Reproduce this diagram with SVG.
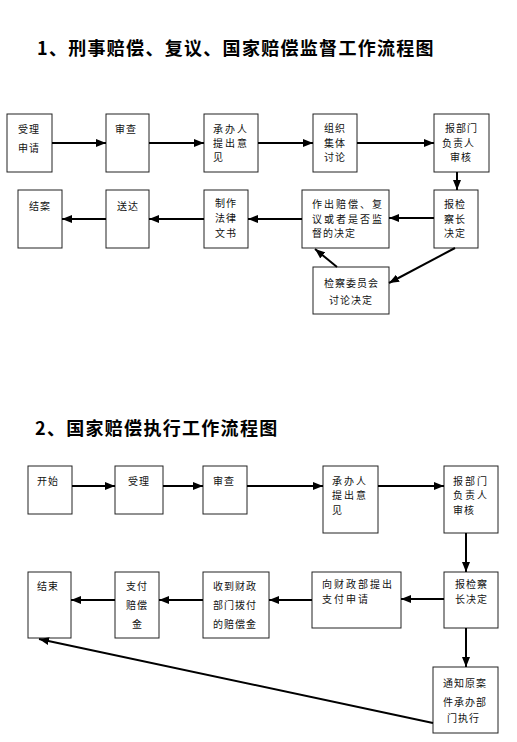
<svg xmlns="http://www.w3.org/2000/svg" width="517" height="742" viewBox="0 0 517 742">
<style>
.bx{fill:#fff;stroke:#222;stroke-width:1}
.t{font-family:"Noto Sans CJK SC","Liberation Sans",sans-serif;font-size:10px;fill:#111;letter-spacing:1px}
.w{letter-spacing:2px}
.h{font-family:"Noto Sans CJK SC","Liberation Sans",sans-serif;font-size:18px;font-weight:700;fill:#000;letter-spacing:1.3px}
.c line{stroke:#000;stroke-width:2;marker-end:url(#ah)}
</style>
<defs>
<marker id="ah" markerUnits="userSpaceOnUse" markerWidth="10" markerHeight="8" refX="10" refY="4" orient="auto">
<path d="M0,0 L10,4 L0,8 z" fill="#000"/>
</marker>
</defs>
<rect width="517" height="742" fill="#fff"/>
<text class="h" x="37" y="55">1、刑事赔偿、复议、国家赔偿监督工作流程图</text>
<text class="h" x="35" y="435">2、国家赔偿执行工作流程图</text>

<g id="a1"><rect class="bx" x="7" y="114" width="45" height="58"/><text class="t" x="18" y="133">受理</text><text class="t" x="18" y="152">申请</text></g>
<g id="a2"><rect class="bx" x="106" y="114" width="43" height="58"/><text class="t" x="115" y="133">审查</text></g>
<g id="a3"><rect class="bx" x="204" y="114" width="54" height="58"/><text class="t w" x="213" y="133">承办人</text><text class="t w" x="213" y="147">提出意</text><text class="t" x="213" y="161">见</text></g>
<g id="a4"><rect class="bx" x="313" y="114" width="44" height="58"/><text class="t" x="324" y="132">组织</text><text class="t" x="324" y="147">集体</text><text class="t" x="324" y="161">讨论</text></g>
<g id="a5"><rect class="bx" x="434" y="114" width="55" height="58"/><text class="t" x="445" y="132">报部门</text><text class="t" x="442" y="147">负责人</text><text class="t" x="450" y="161">审核</text></g>
<g id="a6"><rect class="bx" x="434" y="190" width="44" height="58"/><text class="t" x="444" y="208">报检</text><text class="t" x="444" y="223">察长</text><text class="t" x="444" y="237">决定</text></g>
<g id="a7"><rect class="bx" x="302" y="190" width="87" height="58"/><text class="t w" x="312" y="208">作出赔偿、复</text><text class="t w" x="312" y="223">议或者是否监</text><text class="t" x="312" y="237">督的决定</text></g>
<g id="a8"><rect class="bx" x="204" y="190" width="44" height="58"/><text class="t" x="215" y="207">制作</text><text class="t" x="215" y="222">法律</text><text class="t" x="215" y="237">文书</text></g>
<g id="a9"><rect class="bx" x="106" y="190" width="43" height="58"/><text class="t" x="117" y="210">送达</text></g>
<g id="a10"><rect class="bx" x="18" y="190" width="44" height="58"/><text class="t" x="29" y="210">结案</text></g>
<g id="a11"><rect class="bx" x="313" y="267" width="76" height="47"/><text class="t" x="324" y="287">检察委员会</text><text class="t" x="329" y="304">讨论决定</text></g>

<g id="b1"><rect class="bx" x="28" y="466" width="44" height="48"/><text class="t" x="37" y="485">开始</text></g>
<g id="b2"><rect class="bx" x="115" y="466" width="48" height="48"/><text class="t" x="128" y="485">受理</text></g>
<g id="b3"><rect class="bx" x="203" y="466" width="44" height="48"/><text class="t" x="213" y="485">审查</text></g>
<g id="b4"><rect class="bx" x="323" y="466" width="55" height="67"/><text class="t w" x="332" y="485">承办人</text><text class="t w" x="332" y="499">提出意</text><text class="t" x="332" y="514">见</text></g>
<g id="b5"><rect class="bx" x="444" y="466" width="54" height="67"/><text class="t w" x="453" y="485">报部门</text><text class="t w" x="453" y="499">负责人</text><text class="t" x="453" y="514">审核</text></g>
<g id="b6"><rect class="bx" x="444" y="572" width="54" height="56"/><text class="t" x="455" y="588">报检察</text><text class="t" x="455" y="603">长决定</text></g>
<g id="b7"><rect class="bx" x="312" y="572" width="89" height="56"/><text class="t w" x="322" y="588">向财政部提出</text><text class="t w" x="322" y="603">支付申请</text></g>
<g id="b8"><rect class="bx" x="203" y="572" width="66" height="66"/><text class="t" x="213" y="590">收到财政</text><text class="t" x="213" y="609">部门拨付</text><text class="t" x="213" y="628">的赔偿金</text></g>
<g id="b9"><rect class="bx" x="115" y="572" width="44" height="66"/><text class="t" x="126" y="590">支付</text><text class="t" x="126" y="609">赔偿</text><text class="t" x="132" y="628">金</text></g>
<g id="b10"><rect class="bx" x="28" y="572" width="43" height="66"/><text class="t" x="37" y="590">结束</text></g>
<g id="b11"><rect class="bx" x="433" y="667" width="65" height="66"/><text class="t" x="443" y="687">通知原案</text><text class="t" x="443" y="706">件承办部</text><text class="t" x="447" y="722">门执行</text></g>

<g id="connectors" class="c">
<line x1="52" y1="143" x2="106" y2="143"/>
<line x1="149" y1="143" x2="204" y2="143"/>
<line x1="258" y1="143" x2="313" y2="143"/>
<line x1="357" y1="143" x2="434" y2="143"/>
<line x1="457" y1="172" x2="457" y2="190"/>
<line x1="434" y1="218" x2="389" y2="218"/>
<line x1="302" y1="219" x2="248" y2="219"/>
<line x1="204" y1="219" x2="149" y2="219"/>
<line x1="106" y1="219" x2="62" y2="219"/>
<line x1="455" y1="248" x2="389" y2="283"/>
<line x1="337" y1="267" x2="315" y2="249"/>
<line x1="72" y1="486" x2="115" y2="486"/>
<line x1="163" y1="486" x2="203" y2="486"/>
<line x1="247" y1="486" x2="323" y2="486"/>
<line x1="378" y1="486" x2="444" y2="486"/>
<line x1="466" y1="533" x2="466" y2="572"/>
<line x1="444" y1="599" x2="401" y2="599"/>
<line x1="312" y1="600" x2="269" y2="600"/>
<line x1="203" y1="600" x2="159" y2="600"/>
<line x1="115" y1="600" x2="71" y2="600"/>
<line x1="466" y1="628" x2="466" y2="667"/>
<line x1="433" y1="723" x2="39" y2="639"/>
</g>
</svg>
